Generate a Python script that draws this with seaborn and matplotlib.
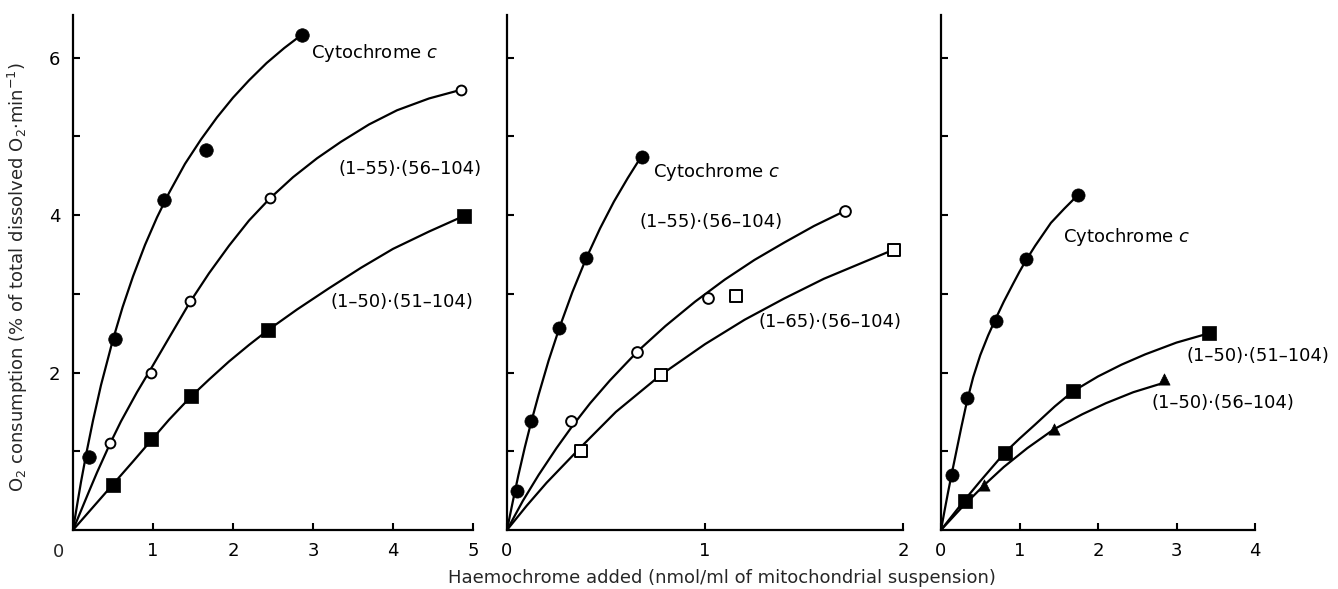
import matplotlib
matplotlib.use("Agg")
import matplotlib.pyplot as plt
import seaborn as sns

# === DATA ===
# left panel, x in 0-5 nmol/ml
left_x_cyt = [0.20, 0.53, 1.14, 1.66, 2.86]
left_y_cyt = [0.93, 2.42, 4.19, 4.82, 6.29]
left_x_55 = [0.46, 0.97, 1.46, 2.46, 4.85]
left_y_55 = [1.10, 2.00, 2.91, 4.21, 5.59]
left_x_50 = [0.50, 0.97, 1.47, 2.44, 4.89]
left_y_50 = [0.57, 1.16, 1.70, 2.54, 3.99]
# drawn curves
left_curve_cyt_x = [0, 0.05, 0.10, 0.17, 0.25, 0.35, 0.50, 0.62, 0.75, 0.90, 1.05,
                    1.20, 1.40, 1.60, 1.80, 2.00, 2.20, 2.42, 2.64, 2.86]
left_curve_cyt_y = [0, 0.31, 0.61, 0.99, 1.39, 1.84, 2.42, 2.83, 3.22, 3.62, 3.97,
                    4.28, 4.65, 4.96, 5.24, 5.49, 5.71, 5.93, 6.12, 6.29]
left_curve_55_x = [0, 0.10, 0.20, 0.30, 0.46, 0.60, 0.80, 0.97, 1.20, 1.46, 1.70,
                   1.95, 2.20, 2.46, 2.75, 3.05, 3.35, 3.70, 4.05, 4.45, 4.85]
left_curve_55_y = [0, 0.245, 0.49, 0.73, 1.09, 1.38, 1.75, 2.04, 2.44, 2.89, 3.26,
                   3.61, 3.93, 4.21, 4.48, 4.72, 4.93, 5.15, 5.33, 5.48, 5.59]
left_curve_50_x = [0, 0.25, 0.50, 0.75, 0.97, 1.20, 1.47, 1.70, 1.95, 2.20, 2.44,
                   2.80, 3.20, 3.60, 4.00, 4.45, 4.89]
left_curve_50_y = [0, 0.29, 0.58, 0.87, 1.13, 1.40, 1.69, 1.91, 2.14, 2.35, 2.54,
                   2.80, 3.07, 3.33, 3.57, 3.79, 3.99]

# middle panel, x in 0-2 nmol/ml
mid_x_cyt = [0.05, 0.12, 0.265, 0.40, 0.68]
mid_y_cyt = [0.50, 1.39, 2.56, 3.45, 4.74]
mid_x_55 = [0.323, 0.658, 1.016, 1.705]
mid_y_55 = [1.38, 2.26, 2.94, 4.05]
mid_x_65 = [0.372, 0.777, 1.156, 1.953]
mid_y_65 = [1.00, 1.97, 2.97, 3.56]
mid_curve_cyt_x = [0, 0.03, 0.057, 0.09, 0.12, 0.16, 0.21, 0.265, 0.33, 0.40,
                   0.47, 0.54, 0.61, 0.68]
mid_curve_cyt_y = [0, 0.37, 0.69, 1.05, 1.35, 1.72, 2.15, 2.57, 3.02, 3.45,
                   3.83, 4.17, 4.47, 4.75]
mid_curve_55_x = [0, 0.08, 0.16, 0.25, 0.33, 0.42, 0.52, 0.66, 0.80, 0.95, 1.10,
                  1.25, 1.40, 1.55, 1.705]
mid_curve_55_y = [0, 0.37, 0.70, 1.04, 1.32, 1.61, 1.90, 2.27, 2.59, 2.90, 3.18,
                  3.43, 3.65, 3.86, 4.05]
mid_curve_65_x = [0, 0.10, 0.20, 0.372, 0.55, 0.777, 1.00, 1.20, 1.40, 1.60, 1.80,
                  1.953]
mid_curve_65_y = [0, 0.31, 0.60, 1.05, 1.50, 1.97, 2.36, 2.67, 2.94, 3.19, 3.40,
                  3.56]

# right panel, x in 0-4 nmol/ml
right_x_cyt = [0.136, 0.33, 0.70, 1.08, 1.74]
right_y_cyt = [0.70, 1.67, 2.65, 3.44, 4.25]
right_x_51 = [0.30, 0.81, 1.68, 3.42]
right_y_51 = [0.37, 0.98, 1.77, 2.50]
right_x_56 = [0.55, 1.44, 2.84]
right_y_56 = [0.57, 1.28, 1.92]
right_curve_cyt_x = [0, 0.05, 0.09, 0.136, 0.20, 0.26, 0.33, 0.41, 0.50, 0.60,
                     0.70, 0.80, 0.92, 1.00, 1.08, 1.20, 1.40, 1.57, 1.74]
right_curve_cyt_y = [0, 0.27, 0.48, 0.71, 1.02, 1.31, 1.63, 1.94, 2.22, 2.47,
                     2.69, 2.90, 3.13, 3.28, 3.42, 3.61, 3.90, 4.08, 4.25]
right_curve_51_x = [0, 0.15, 0.30, 0.50, 0.81, 1.00, 1.20, 1.45, 1.68, 2.00,
                    2.30, 2.60, 3.00, 3.42]
right_curve_51_y = [0, 0.19, 0.38, 0.62, 0.98, 1.16, 1.34, 1.57, 1.76, 1.95,
                    2.10, 2.23, 2.38, 2.50]
right_curve_56_x = [0, 0.25, 0.55, 0.80, 1.10, 1.44, 1.80, 2.10, 2.45, 2.84]
right_curve_56_y = [0, 0.27, 0.57, 0.80, 1.04, 1.28, 1.47, 1.61, 1.75, 1.87]

y_ticks = [1, 2, 3, 4, 5, 6]
left_y_ticklabels = ["", "2", "", "4", "", "6"]

# === STYLE ===
sns.set_theme(style="ticks")
plt.rcParams["font.family"] = ["DejaVu Sans"]
plt.rcParams["mathtext.fontset"] = "dejavusans"
plt.rcParams["xtick.direction"] = "in"
plt.rcParams["ytick.direction"] = "in"

W, H = 1338, 589
FS = 13
fig = plt.figure(figsize=(W / 100, H / 100), dpi=100)


def make_axes(x0, x1, xmax):
    ax = fig.add_axes([x0 / W, (H - 530) / H, (x1 - x0) / W, (530 - 15) / H])
    ax.set_xlim(0, xmax)
    ax.set_ylim(0, 6.54)
    for side in ["top", "right"]:
        ax.spines[side].set_visible(False)
    for side in ["left", "bottom"]:
        ax.spines[side].set_linewidth(1.6)
        ax.spines[side].set_color("black")
    ax.set_yticks(y_ticks)
    return ax


def finish_ticks(ax):
    ax.tick_params(axis="both", which="both", direction="in", length=5,
                   width=1.5, labelsize=FS, pad=9, colors="black",
                   left=True, bottom=True, right=False, top=False)


def curve(ax, xs, ys):
    sns.lineplot(x=xs, y=ys, ax=ax, sort=False, estimator=None, color="black",
                 linewidth=1.6)


def points(ax, xs, ys, marker, size, filled=True):
    sns.scatterplot(x=xs, y=ys, ax=ax, marker=marker, s=size,
                    color="black" if filled else "white",
                    edgecolor="black", linewidth=1.4 if not filled else 0.5,
                    zorder=3, clip_on=False)


def label(ax, x, y, text):
    ax.text(x, y, text, fontsize=FS, ha="left", va="center", color="black")


# --- left panel ---
ax1 = make_axes(73, 473, 5)
curve(ax1, left_curve_cyt_x, left_curve_cyt_y)
curve(ax1, left_curve_55_x, left_curve_55_y)
curve(ax1, left_curve_50_x, left_curve_50_y)
points(ax1, left_x_cyt, left_y_cyt, "o", 95)
points(ax1, left_x_55, left_y_55, "o", 50, filled=False)
points(ax1, left_x_50, left_y_50, "s", 90)
ax1.set_xticks([1, 2, 3, 4, 5])
ax1.set_xticklabels(["1", "2", "3", "4", "5"])
ax1.set_yticklabels(left_y_ticklabels)
label(ax1, 2.97, 6.06, "Cytochrome $c$")
label(ax1, 3.32, 4.58, "(1–55)·(56–104)")
label(ax1, 3.22, 2.90, "(1–50)·(51–104)")
fig.text(58 / W, 1 - 552 / H, "0", fontsize=FS, ha="center", va="center")
finish_ticks(ax1)

# --- middle panel ---
ax2 = make_axes(507, 903, 2)
curve(ax2, mid_curve_cyt_x, mid_curve_cyt_y)
curve(ax2, mid_curve_55_x, mid_curve_55_y)
curve(ax2, mid_curve_65_x, mid_curve_65_y)
points(ax2, mid_x_cyt, mid_y_cyt, "o", 90)
points(ax2, mid_x_55, mid_y_55, "o", 60, filled=False)
points(ax2, mid_x_65, mid_y_65, "s", 80, filled=False)
ax2.set_xticks([0, 1, 2])
ax2.set_xticklabels(["0", "1", "2"])
ax2.set_yticklabels([])
label(ax2, 0.736, 4.55, "Cytochrome $c$")
label(ax2, 0.668, 3.91, "(1–55)·(56–104)")
label(ax2, 1.27, 2.64, "(1–65)·(56–104)")
finish_ticks(ax2)

# --- right panel ---
ax3 = make_axes(941, 1255, 4)
curve(ax3, right_curve_cyt_x, right_curve_cyt_y)
curve(ax3, right_curve_51_x, right_curve_51_y)
curve(ax3, right_curve_56_x, right_curve_56_y)
points(ax3, right_x_cyt, right_y_cyt, "o", 90)
points(ax3, right_x_51, right_y_51, "s", 90)
points(ax3, right_x_56, right_y_56, "^", 65)
ax3.set_xticks([0, 1, 2, 3, 4])
ax3.set_xticklabels(["0", "1", "2", "3", "4"])
ax3.set_yticklabels([])
label(ax3, 1.556, 3.72, "Cytochrome $c$")
label(ax3, 3.126, 2.21, "(1–50)·(51–104)")
label(ax3, 2.68, 1.61, "(1–50)·(56–104)")
finish_ticks(ax3)

# shared axis titles
fig.text(722 / W, 1 - 578 / H,
         "Haemochrome added (nmol/ml of mitochondrial suspension)",
         fontsize=FS, ha="center", va="center")
fig.text(18 / W, 0.53,
         "O$_2$ consumption (% of total dissolved O$_2$·min$^{-1}$)",
         fontsize=FS, ha="center", va="center", rotation=90)

fig.savefig("out.png", dpi=100, facecolor="white")
